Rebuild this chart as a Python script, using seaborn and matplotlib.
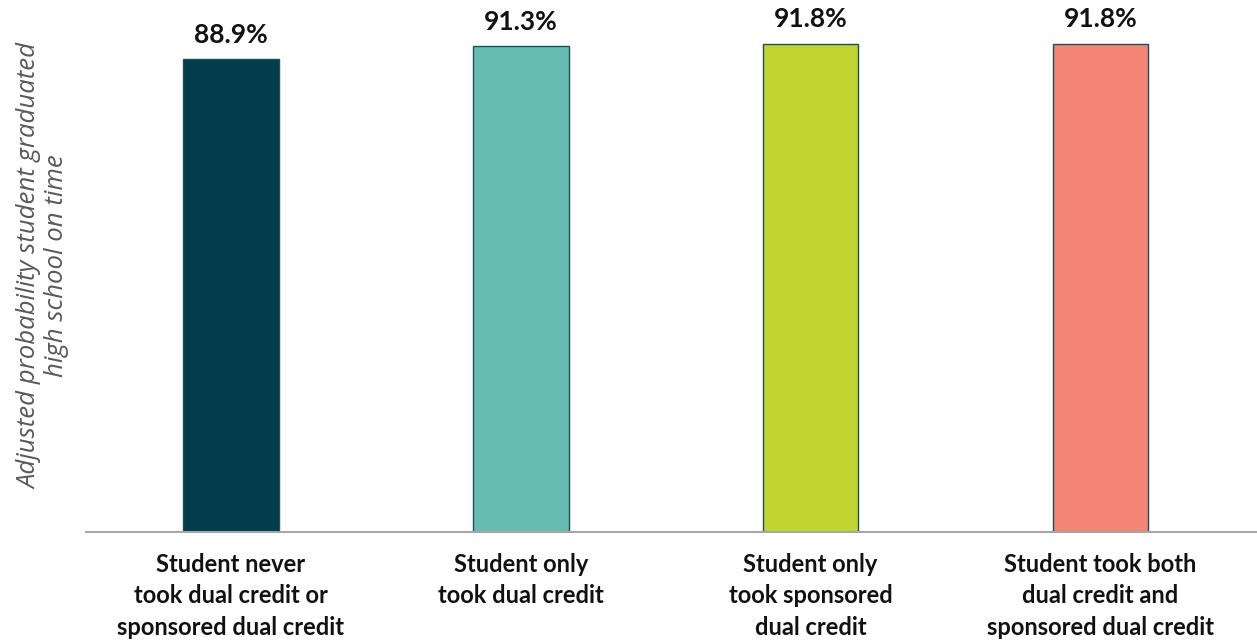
import seaborn as sns
import matplotlib.pyplot as plt
import pandas as pd

categories = [
    "Student never\ntook dual credit or\nsponsored dual credit",
    "Student only\ntook dual credit",
    "Student only\ntook sponsored\ndual credit",
    "Student took both\ndual credit and\nsponsored dual credit",
]
values = [88.9, 91.3, 91.8, 91.8]
colors = ["#033c4a", "#66bcb0", "#c1d530", "#f48576"]

df = pd.DataFrame({"group": categories, "prob": values})

sns.set_style("white")
plt.rcParams['font.family'] = ['Lato', 'DejaVu Sans']

fig = plt.figure(figsize=(12.57, 6.41), dpi=100)
ax = fig.add_axes([86 / 1257, 109 / 641, 1 - 86 / 1257, 532 / 641])

sns.barplot(data=df, x="group", y="prob", hue="group", palette=colors,
            saturation=1, legend=False, width=0.33, edgecolor="#1d4e5c",
            linewidth=1, ax=ax)

ax.set_ylim(0, 100)
ax.set_xlim(-0.5, 3.54)

for i, v in enumerate(values):
    ax.annotate(f"{v:.1f}%", (i, v), xytext=(0, 9), textcoords="offset points",
                ha="center", va="bottom", fontsize=19, fontweight="bold", color="#111111")

ax.set_xlabel("")
ax.set_ylabel("Adjusted probability student graduated\nhigh school on time",
              family="Open Sans", style="italic", fontsize=18.5, color="#595959",
              linespacing=1.08, labelpad=12)
ax.set_yticks([])
ax.tick_params(axis="x", length=0, pad=15)
for lbl in ax.get_xticklabels():
    lbl.set_fontweight("bold")
    lbl.set_fontsize(17)
    lbl.set_linespacing(1.45)
    lbl.set_color("#111111")

for s in ["top", "right", "left"]:
    ax.spines[s].set_visible(False)
ax.spines["bottom"].set_color("#a6a6a6")
ax.spines["bottom"].set_linewidth(1.5)

fig.savefig("out.png", dpi=100)
